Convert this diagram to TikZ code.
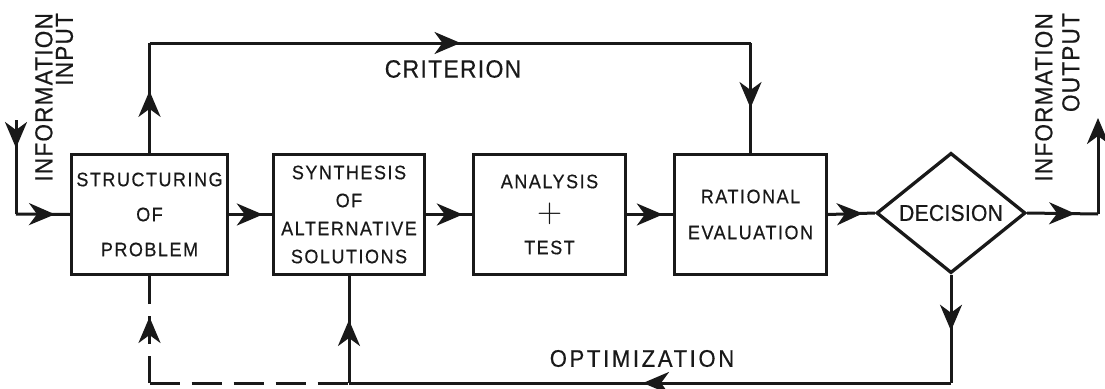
\documentclass[tikz,border=0pt]{standalone}
\usepackage{fix-cm}
\usepackage{graphicx}
\usepackage{fontspec}
\setmainfont{Liberation Sans}
\newfontfamily\boxfont[LetterSpace=8, FakeStretch=0.92, FakeBold=0.5]{Liberation Sans}
\newfontfamily\critfont[LetterSpace=5, FakeStretch=0.92, FakeBold=0.5]{Liberation Sans}
\newfontfamily\optfont[LetterSpace=11, FakeStretch=0.92, FakeBold=0.5]{Liberation Sans}
\newfontfamily\infofont[LetterSpace=5, FakeStretch=0.92, FakeBold=0.5]{Liberation Sans}
\newfontfamily\decfont[LetterSpace=1, FakeStretch=0.92, FakeBold=0.5]{Liberation Sans}
\usetikzlibrary{arrows.meta,decorations.markings,shapes.geometric}
\definecolor{ink}{gray}{0.1}
\tikzset{
  mytip/.tip={Stealth[length=26pt,width=22pt,inset=8pt]},
  flow/.style={line width=3pt, draw=ink},
  tipat/.style={postaction={decorate}, decoration={markings, mark=at position #1 with {\arrow{mytip}}}},
  stepbox/.style={draw=ink, line width=3.3pt, rectangle, minimum height=120pt, inner sep=0pt, align=center, text=ink},
  lab/.style={text=ink, inner sep=0pt},
  dashline/.style={dash pattern=on 28pt off 12pt}
}
\begin{document}
\begin{tikzpicture}[x=1pt,y=-1pt]
\useasboundingbox (0,0) rectangle (1105,388);
% boxes
\node[stepbox, minimum width=156pt, font=\boxfont\fontsize{19.5}{35}\selectfont] (s1) at (149.5,214.5) {STRUCTURING\\OF\\PROBLEM};
\node[stepbox, minimum width=151pt, font=\boxfont\fontsize{19.5}{28}\selectfont] (s2) at (349,214.5) {SYNTHESIS\\OF\\ALTERNATIVE\\SOLUTIONS};
\node[stepbox, minimum width=152pt, font=\boxfont\fontsize{19.5}{33}\selectfont] (s3) at (549.5,214.5) {ANALYSIS\\\smash{\raisebox{-1.5pt}{\resizebox{25pt}{!}{$+$}}}\\TEST};
\node[stepbox, minimum width=152pt, font=\boxfont\fontsize{19.5}{36}\selectfont] (s4) at (750.5,214.5) {RATIONAL\\EVALUATION};
\node[draw=ink, line width=3.3pt, diamond, minimum width=149pt, minimum height=118pt, inner sep=0pt, text=ink, font=\decfont\fontsize{23}{23}\selectfont] (d) at (951,213) {DECISION};
% labels
\node[lab, font=\critfont\fontsize{25}{25}\selectfont] (crit) at (453,69) {CRITERION};
\node[lab, font=\optfont\fontsize{24}{24}\selectfont] (opt) at (642,358.5) {OPTIMIZATION};
\node[lab, rotate=90, anchor=north east, align=right, font=\infofont\fontsize{24.5}{20.5}\selectfont] (inl) at (35,13) {INFORMATION\\INPUT};
\node[lab, rotate=90, anchor=north east, align=right, font=\infofont\fontsize{24.5}{27}\selectfont] (outl) at (1035,13) {INFORMATION\\OUTPUT};
% coordinates
\coordinate (tl) at (149.5,43);
\coordinate (tr) at (750.5,43);
\coordinate (in0) at (16,120);
\coordinate (inc) at (16,214);
\coordinate (outc) at (1098,214);
\coordinate (out0) at (1098,118);
\coordinate (br) at (951,383);
\coordinate (bm) at (349,383);
\coordinate (bl) at (149.5,383);
% input
\draw[flow, tipat=28pt] (in0) -- (inc);
\draw[flow, tipat=39pt] (inc) -- (s1.west);
% main chain
\draw[flow, tipat=-9pt] (s1.east) -- (s2.west);
\draw[flow, tipat=-9pt] (s2.east) -- (s3.west);
\draw[flow, tipat=-10pt] (s3.east) -- (s4.west);
\draw[flow, tipat=-12pt] (s4.east) -- (d.west);
% output
\draw[flow, tipat=48pt] (d.east) -- (outc);
\draw[flow, -{mytip}] (outc) -- (out0);
% criterion loop
\draw[flow, tipat=62pt] (s1.north) -- (tl);
\draw[flow, tipat=311pt] (tl) -- (tr);
\draw[flow, tipat=65pt] (tr) -- (s4.north);
% optimization loop
\draw[flow, tipat=56pt] (d.south) -- (br);
\draw[flow, tipat=308pt] (br) -- (bm);
\draw[flow, tipat=63pt] (bm) -- (s2.south);
\draw[flow, dash pattern=on 30pt off 12pt] (bl) -- (bm);
\draw[flow, dashline, dash phase=1pt, tipat=66pt] (bl) -- (s1.south);
\end{tikzpicture}
\end{document}
